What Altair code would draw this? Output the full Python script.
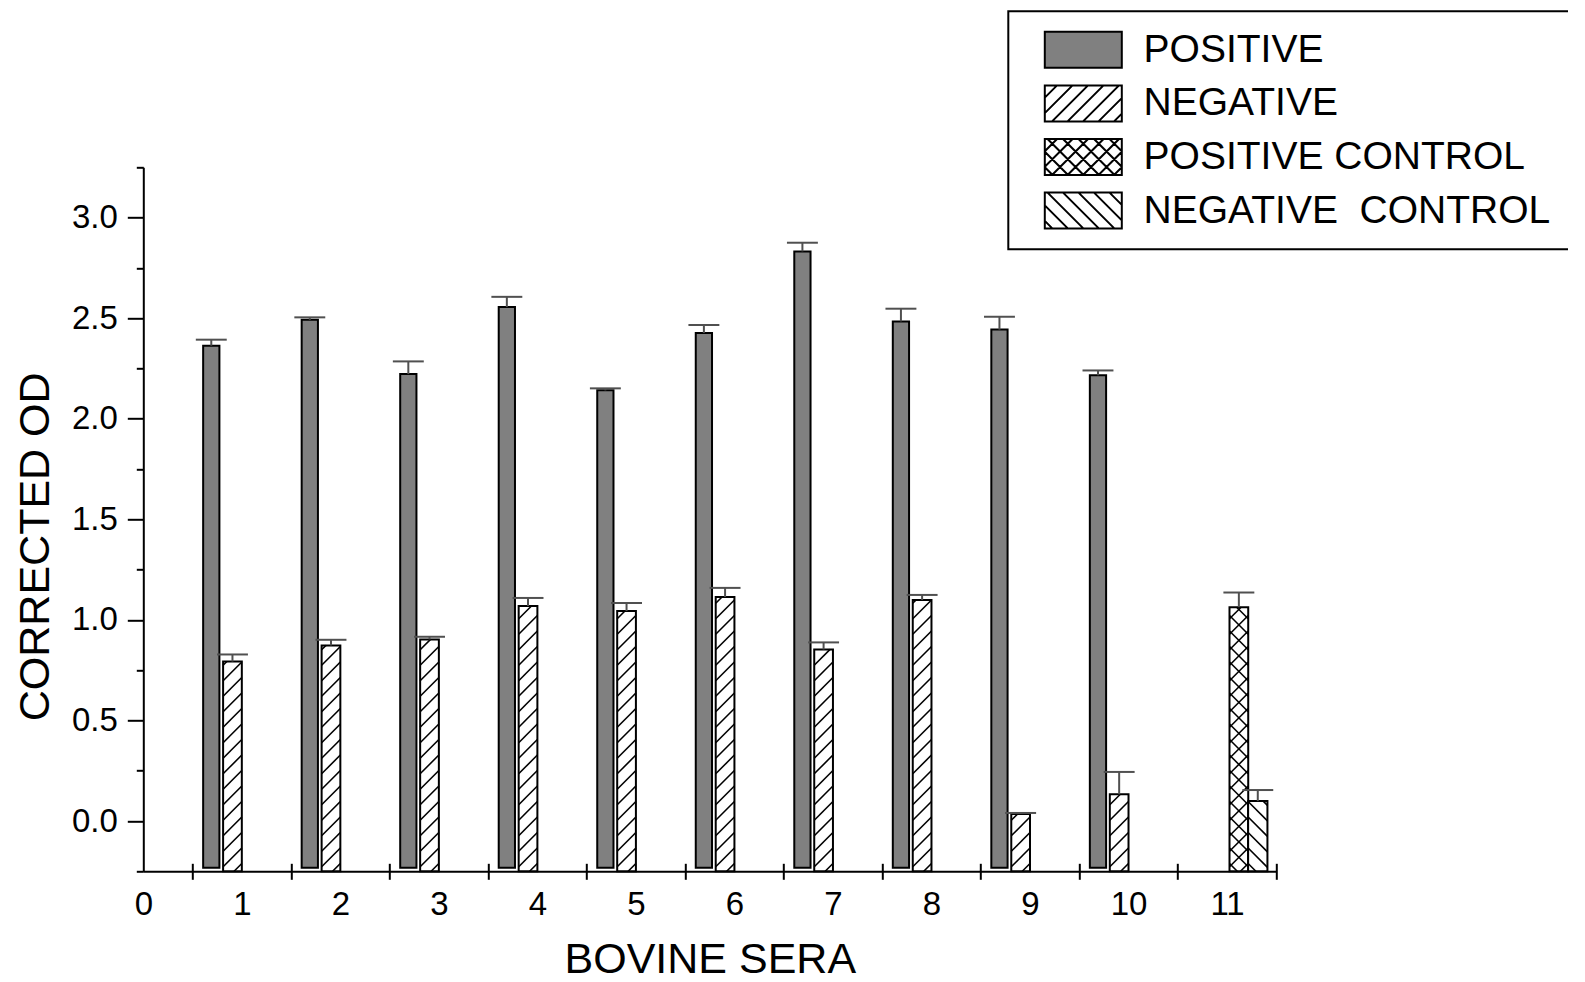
import altair as alt
import pandas as pd

# ---------------- data ----------------
groups = [1, 2, 3, 4, 5, 6, 7, 8, 9, 10]
control_group = [11]
series = ["POSITIVE", "NEGATIVE", "POSITIVE CONTROL", "NEGATIVE\u00a0 CONTROL"]

positive = [2.363, 2.492, 2.222, 2.555, 2.141, 2.426, 2.832, 2.484, 2.443, 2.216]
positive_err = [0.030, 0.012, 0.063, 0.051, 0.010, 0.040, 0.043, 0.063, 0.064, 0.024]
negative = [0.793, 0.873, 0.903, 1.069, 1.044, 1.114, 0.853, 1.099, 0.035, 0.133]
negative_err = [0.035, 0.028, 0.013, 0.040, 0.040, 0.045, 0.035, 0.025, 0.005, 0.111]
positive_control = [1.063]
positive_control_err = [0.073]
negative_control = [0.099]
negative_control_err = [0.055]

x_labels = list(range(0, 12))
x_minor = [k + 0.5 for k in range(0, 12)]
y_major = [k * 0.5 for k in range(0, 7)]
y_minor = [k * 0.5 - 0.25 for k in range(0, 8)]

# ---------------- layout / style ----------------
W, H = 1133, 704
X_DOM = [0, 11.5]
Y_DOM = [-0.25, 3.25]
SX = W / (X_DOM[1] - X_DOM[0])
SY = H / (Y_DOM[1] - Y_DOM[0])
PERIOD = 15.5          # hatch period in px
CAP = 0.157            # half width of error caps (x units)

SLOT = {series[0]: (-0.31, 0.165), series[1]: (-0.095, 0.19),
        series[2]: (0.12, 0.19), series[3]: (0.312, 0.196)}
BASE = {series[0]: -0.232, series[1]: -0.25, series[2]: -0.25, series[3]: -0.25}
FILL = {series[0]: "#808080", series[1]: "white", series[2]: "white", series[3]: "white"}
HATCH = {series[0]: [], series[1]: [1], series[2]: [1, -1], series[3]: [-1]}

rows = []


def add(gs, vals, errs, s):
    off, w = SLOT[s]
    for g, v, e in zip(gs, vals, errs):
        rows.append(dict(group=g, series=s, value=v, err=e, top=v + e,
                         cx=g + off, xl=g + off - w / 2, xr=g + off + w / 2,
                         capl=g + off - CAP, capr=g + off + CAP,
                         base=BASE[s], fill=FILL[s], dirs=HATCH[s]))


add(groups, positive, positive_err, series[0])
add(groups, negative, negative_err, series[1])
add(control_group, positive_control, positive_control_err, series[2])
add(control_group, negative_control, negative_control_err, series[3])
df = pd.DataFrame(rows)

xscale = alt.Scale(domain=X_DOM, nice=False, zero=False)
yscale = alt.Scale(domain=Y_DOM, nice=False, zero=False)
FONT = "Liberation Sans"

# ---------------- legend symbols (rect + hatch as svg path) ----------------
SYM = 36.0
R = SYM / 2


def symbol_path(dirs, wpx=77.0, hpx=36.0, period=PERIOD):
    hw, hh = wpx / 2 / R, hpx / 2 / R
    Wd, Hd, P = 2 * hw, 2 * hh, period / R
    p = [f"M{-hw:.3f},{-hh:.3f}H{hw:.3f}V{hh:.3f}H{-hw:.3f}Z"]
    for d in dirs:
        k = 0
        while True:
            if d > 0:
                c = -Wd + (k + 0.5) * P
                if c > Hd:
                    break
                u0, u1 = max(0, -c), min(Wd, Hd - c)
                v0, v1 = u0 + c, u1 + c
            else:
                c = (k + 0.5) * P
                if c > Wd + Hd:
                    break
                u0, u1 = max(0, c - Hd), min(Wd, c)
                v0, v1 = c - u0, c - u1
            if u1 > u0:
                p.append(f"M{-hw + u0:.3f},{hh - v0:.3f}L{-hw + u1:.3f},{hh - v1:.3f}")
            k += 1
    return "".join(p)


paths = [symbol_path(HATCH[s]) for s in series]

# ---------------- axes ----------------
y_axis = alt.Axis(
    values=y_major, format=".1f", title="CORRECTED OD", grid=False, orient="left",
    tickSize=16, tickWidth=2, tickColor="black", domainColor="black", domainWidth=2,
    labelFontSize=33, labelPadding=10, labelColor="black", labelFont=FONT,
    labelFlush=False, labelOverlap=False,
    titleFontSize=43, titleFont=FONT, titleFontWeight="normal", titleColor="black",
    titleAngle=270, titleAlign="center", titleBaseline="alphabetic",
    titleX=-95, titleY=379,
)

y_axis_minor = alt.Axis(
    values=y_minor, title=None, grid=False, orient="left", domain=False,
    labels=False, ticks=True, tickSize=7, tickWidth=2, tickColor="black",
)

x_axis_main = alt.Axis(
    values=x_labels, format="d", title="BOVINE SERA", grid=False, orient="bottom",
    ticks=False, domainColor="black", domainWidth=2,
    labelFontSize=33, labelPadding=17, labelColor="black", labelFont=FONT,
    labelFlush=False, labelOverlap=False,
    titleFontSize=43, titleFont=FONT, titleFontWeight="normal", titleColor="black",
    titleBaseline="alphabetic", titleY=101,
)

x_axis_ticks = alt.Axis(
    values=x_minor, title=None, grid=False, orient="bottom", domain=False,
    labels=False, ticks=True, tickSize=16, tickWidth=2, tickColor="black", offset=-8,
)

# ---------------- layers ----------------
bars = alt.Chart(df).mark_bar(stroke="black", strokeWidth=2).encode(
    x=alt.X("xl:Q", scale=xscale, axis=x_axis_main),
    x2="xr:Q",
    y=alt.Y("base:Q", scale=yscale, axis=y_axis),
    y2="value:Q",
    fill=alt.Fill("fill:N", scale=None),
)

hatch = (
    alt.Chart(df)
    .transform_flatten(["dirs"], as_=["dir"])
    .transform_calculate(w=f"(datum.xr - datum.xl) * {SX}")
    .transform_calculate(h=f"(datum.value - datum.base) * {SY}")
    .transform_calculate(ks=f"sequence(0, ceil((datum.w + datum.h) / {PERIOD}) + 1)")
    .transform_flatten(["ks"], as_=["k"])
    .transform_calculate(
        c=f"datum.dir > 0 ? -datum.w + (datum.k + 0.5) * {PERIOD} : (datum.k + 0.5) * {PERIOD}")
    .transform_calculate(u0="datum.dir > 0 ? max(0, -datum.c) : max(0, datum.c - datum.h)")
    .transform_calculate(u1="datum.dir > 0 ? min(datum.w, datum.h - datum.c) : min(datum.w, datum.c)")
    .transform_filter("datum.u1 - datum.u0 > 0.3")
    .transform_calculate(hx=f"datum.xl + datum.u0 / {SX}")
    .transform_calculate(hx2=f"datum.xl + datum.u1 / {SX}")
    .transform_calculate(
        hy=f"datum.base + (datum.dir > 0 ? datum.u0 + datum.c : datum.c - datum.u0) / {SY}")
    .transform_calculate(
        hy2=f"datum.base + (datum.dir > 0 ? datum.u1 + datum.c : datum.c - datum.u1) / {SY}")
    .mark_rule(color="black", strokeWidth=1.6)
    .encode(
        x=alt.X("hx:Q", scale=xscale, axis=None),
        x2="hx2:Q",
        y=alt.Y("hy:Q", scale=yscale, axis=None),
        y2="hy2:Q",
    )
)

stems = alt.Chart(df).mark_rule(color="#505050", strokeWidth=2).encode(
    x=alt.X("cx:Q", scale=xscale, axis=None),
    y=alt.Y("value:Q", scale=yscale, axis=y_axis_minor),
    y2="top:Q",
)

caps = alt.Chart(df).mark_rule(color="#505050", strokeWidth=2).encode(
    x=alt.X("capl:Q", scale=xscale, axis=x_axis_ticks),
    x2="capr:Q",
    y=alt.Y("top:Q", scale=yscale, axis=None),
)

legend = alt.Legend(
    title=None, orient="none", legendX=865, legendY=-156, padding=18.5,
    strokeColor="black", fillColor="white",
    labelFontSize=39, labelFont=FONT, labelColor="black", labelLimit=2000,
    labelOffset=40.8, symbolOffset=37, symbolSize=SYM * SYM, rowPadding=13.6,
    clipHeight=40,
    symbolStrokeWidth=2, symbolOpacity=1,
)

legend_layer = alt.Chart(df).transform_filter("false").mark_point(filled=True, strokeWidth=2).encode(
    x=alt.X("cx:Q", scale=xscale, axis=None),
    y=alt.Y("value:Q", scale=yscale, axis=None),
    shape=alt.Shape("series:N", scale=alt.Scale(domain=series, range=paths), legend=legend),
    fill=alt.Fill("series:N", scale=alt.Scale(domain=series, range=[FILL[s] for s in series]),
                  legend=legend),
    stroke=alt.Stroke("series:N", scale=alt.Scale(domain=series, range=["black"] * 4),
                      legend=legend),
)

TOTAL_W, TOTAL_H = 1560, 974
chart = (
    alt.layer(bars, hatch, stems, caps, legend_layer)
    .resolve_axis(x="independent", y="independent")
    .properties(
        width=W, height=H,
        autosize=alt.AutoSizeParams(type="none"),
        padding={"left": 135.3, "top": 159.3, "right": TOTAL_W - 135.3 - W,
                 "bottom": TOTAL_H - 159.3 - H},
        view=alt.ViewBackground(stroke="transparent", strokeWidth=0),
    )
    .configure_view(stroke="transparent", strokeWidth=0)
    .configure(font=FONT)
    .configure_legend(strokeWidth=2)
)

chart.save("out.html", embed_options={"renderer": "svg", "actions": False})
